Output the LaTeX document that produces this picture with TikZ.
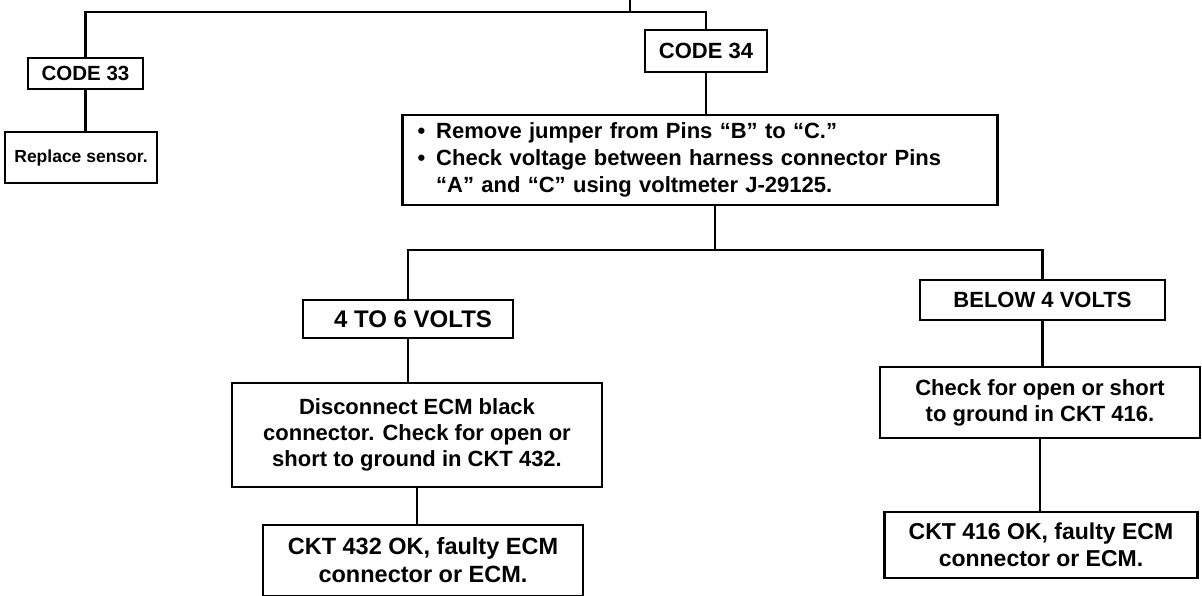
\documentclass[tikz,border=0pt]{standalone}
\usepackage{fontspec}
\setmainfont{Liberation Sans}
\usetikzlibrary{positioning}

\begin{document}
\begin{tikzpicture}[x=1pt, y=-1pt, every node/.style={font=\bfseries\fontsize{22}{26}\selectfont}]
\tikzset{box/.style={draw, line width=2.6pt, align=center, inner sep=0pt}}
\tikzset{link/.style={line width=2.4pt}}
\useasboundingbox (0,0) rectangle (1202,596);
% left branch
\node[box, minimum width=115pt, minimum height=31pt, font=\bfseries\fontsize{20.5}{24}\selectfont] (code33) at (85.5,73.5) {CODE 33};
\node[box, minimum width=152pt, minimum height=51pt, font=\bfseries\fontsize{17.5}{20}\selectfont] (replace) at (81,157.5) {Replace sensor.};
% right branch
\node[box, minimum width=122pt, minimum height=42pt] (code34) at (706,51) {CODE 34};
\node[box, text width=565pt, inner xsep=15pt, minimum height=90pt, align=left, font=\bfseries\fontsize{22}{27}\selectfont] (chk) at (700,160)
  {\begin{tabular}{@{}l@{\hspace{11pt}}l@{}}
   \textbullet & Remove jumper from Pins ``B'' to ``C.''\\
   \textbullet & Check voltage between harness connector Pins\\
               & ``A'' and ``C'' using voltmeter J-29125.
   \end{tabular}};
\node[box, minimum width=210pt, minimum height=38pt, font=\bfseries\fontsize{24}{28}\selectfont] (volts46) at (408,319) {\hspace{10pt}4 TO 6 VOLTS};
\node[box, minimum width=370pt, minimum height=104pt] (disc) at (417,435) {Disconnect ECM black\\connector. Check for open or\\short to ground in CKT 432.};
\node[box, minimum width=320pt, minimum height=71pt, font=\bfseries\fontsize{23.5}{28}\selectfont] (ckt432) at (423,560.5) {CKT 432 OK, faulty ECM\\connector or ECM.};
\node[box, minimum width=245pt, minimum height=40pt] (below4) at (1042.5,300) {BELOW 4 VOLTS};
\node[box, minimum width=320pt, minimum height=71pt] (chk416) at (1040,402.5) {Check for open or short\\to ground in CKT 416.};
\node[box, minimum width=313pt, minimum height=66pt, font=\bfseries\fontsize{23}{27}\selectfont] (ckt416) at (1041,545) {CKT 416 OK, faulty ECM\\connector or ECM.};
% connectors
\coordinate (in) at (630,0);
\coordinate (j0) at (630,12);
\coordinate (j1) at (715,250);
\draw[link] (in) -- (j0);
\draw[link] (j0) -| (code33.north);
\draw[link] (j0) -| (code34.north);
\draw[link] (code33.south) -- (code33.south |- replace.north);
\draw[link] (code34.south) -- (code34.south |- chk.north);
\draw[link] (chk.south -| j1) -- (j1);
\draw[link] (j1) -| (volts46.north);
\draw[link] (j1) -| (below4.north);
\draw[link] (volts46.south) -- (volts46.south |- disc.north);
\draw[link] (disc.south) -- (disc.south |- ckt432.north);
\draw[link] (below4.south) -- (below4.south |- chk416.north);
\draw[link] (chk416.south) -- (chk416.south |- ckt416.north);
\end{tikzpicture}
\end{document}
